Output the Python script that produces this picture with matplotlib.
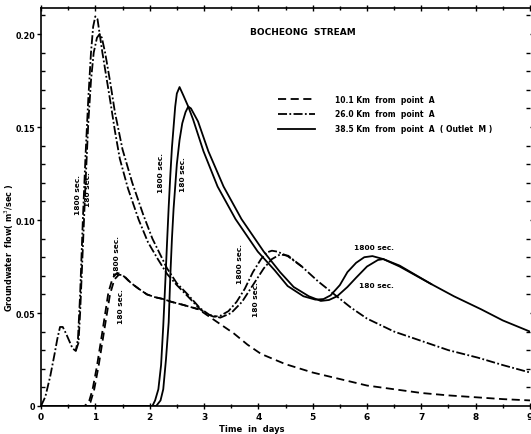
import matplotlib
matplotlib.use("Agg")
import matplotlib.pyplot as plt
from matplotlib.ticker import MultipleLocator, FixedLocator
from matplotlib.lines import Line2D

# ---------------- data ----------------
# 10.1 Km from point A (dashed)
t_a1800 = [0, 0.8, 0.88, 0.95, 1.03, 1.13, 1.24, 1.32, 1.40, 1.48, 1.64, 1.8, 1.95,
           2.1, 2.25, 2.4, 2.6, 2.9, 3.2, 3.55, 3.8, 4.05, 4.5, 5.0, 5.5, 6.0, 6.5,
           7.0, 7.5, 8.0, 8.5, 9.0]
q_a1800 = [0, 0, 0.002, 0.009, 0.0215, 0.040, 0.061, 0.069, 0.0715, 0.071, 0.0665,
           0.063, 0.060, 0.0585, 0.0575, 0.056, 0.0545, 0.052, 0.046, 0.039, 0.033,
           0.028, 0.0225, 0.018, 0.0145, 0.011, 0.009, 0.007, 0.0057, 0.0047, 0.0037, 0.003]
t_a180 = [0, 0.83, 0.91, 0.98, 1.06, 1.16, 1.27, 1.35, 1.43, 1.51, 1.66, 1.8, 1.95,
          2.1, 2.25, 2.4, 2.6, 2.9]
q_a180 = [0, 0, 0.002, 0.009, 0.0215, 0.040, 0.060, 0.068, 0.0705, 0.0705, 0.066,
          0.063, 0.060, 0.0585, 0.0575, 0.056, 0.0545, 0.052]

# 26.0 Km from point A (dash-dot)
t_b1800 = [0, 0.08, 0.17, 0.25, 0.3, 0.35, 0.4, 0.46, 0.52, 0.58, 0.64, 0.68, 0.72,
           0.77, 0.82, 0.87, 0.92, 0.96, 1.0, 1.04, 1.08, 1.13, 1.18, 1.28, 1.36,
           1.45, 1.6, 1.8, 1.97, 2.15, 2.32, 2.5, 2.7, 2.93, 3.05, 3.18, 3.3, 3.45,
           3.6, 3.75, 3.9, 4.05, 4.15, 4.25, 4.35, 4.54, 4.8, 5.1, 5.4, 5.7, 6.0,
           6.5, 7.0, 7.5, 8.04, 8.5, 9.0]
q_b1800 = [0, 0.005, 0.016, 0.028, 0.036, 0.0425, 0.0425, 0.039, 0.035, 0.031,
           0.0296, 0.036, 0.060, 0.100, 0.135, 0.165, 0.190, 0.204, 0.2095, 0.208,
           0.200, 0.190, 0.181, 0.163, 0.148, 0.133, 0.117, 0.100, 0.088, 0.079,
           0.071, 0.065, 0.059, 0.052, 0.0495, 0.048, 0.0485, 0.051, 0.056, 0.063,
           0.072, 0.079, 0.0825, 0.0835, 0.083, 0.0806, 0.075, 0.067, 0.060, 0.053,
           0.047, 0.040, 0.035, 0.030, 0.026, 0.022, 0.018]
t_b180 = [0.64, 0.69, 0.72, 0.77, 0.82, 0.87, 0.92, 0.97, 1.03, 1.08, 1.12, 1.18,
          1.28, 1.36, 1.5, 1.68, 1.88, 2.05, 2.32, 2.5, 2.7, 2.93, 3.1, 3.3, 3.5,
          3.7, 3.9, 4.1, 4.25, 4.4, 4.55, 4.8]
q_b180 = [0.0296, 0.034, 0.050, 0.085, 0.120, 0.152, 0.175, 0.190, 0.198, 0.200,
          0.198, 0.190, 0.173, 0.158, 0.138, 0.120, 0.103, 0.090, 0.074, 0.066,
          0.060, 0.0525, 0.049, 0.0475, 0.050, 0.056, 0.065, 0.074, 0.079, 0.0815,
          0.0808, 0.075]

# 38.5 Km from point A (Outlet M) (solid)
t_c1800 = [0, 2.05, 2.1, 2.16, 2.21, 2.25, 2.29, 2.32, 2.35, 2.38, 2.41, 2.44, 2.47,
           2.5, 2.55, 2.62, 2.71, 2.8, 2.99, 3.25, 3.58, 3.99, 4.3, 4.54, 4.83,
           5.05, 5.2, 5.33, 5.5, 5.64, 5.8, 5.95, 6.1, 6.3, 6.6, 7.18, 7.6, 8.1,
           8.5, 9.0]
q_c1800 = [0, 0, 0.003, 0.009, 0.022, 0.043, 0.068, 0.088, 0.107, 0.124, 0.139,
           0.150, 0.161, 0.168, 0.1715, 0.167, 0.161, 0.154, 0.137, 0.118, 0.1005,
           0.083, 0.073, 0.0645, 0.059, 0.0572, 0.0575, 0.0595, 0.065, 0.072, 0.077,
           0.080, 0.0806, 0.079, 0.075, 0.0656, 0.059, 0.052, 0.046, 0.040]
t_c180 = [0, 2.12, 2.2, 2.25, 2.3, 2.35, 2.38, 2.41, 2.44, 2.5, 2.55, 2.6, 2.66,
          2.71, 2.76, 2.89, 3.08, 3.36, 3.69, 4.1, 4.4, 4.65, 4.93, 5.15, 5.3,
          5.45, 5.64, 5.8, 6.0, 6.2, 6.3, 6.6, 7.18]
q_c180 = [0, 0, 0.003, 0.009, 0.025, 0.045, 0.070, 0.090, 0.106, 0.130, 0.143,
          0.152, 0.158, 0.161, 0.160, 0.153, 0.137, 0.118, 0.1005, 0.083, 0.072,
          0.064, 0.059, 0.0565, 0.057, 0.059, 0.064, 0.069, 0.075, 0.0785, 0.079,
          0.0755, 0.0656]

x_ticks = [0, 1, 2, 3, 4, 5, 6, 7, 8, 9]
y_ticks = [0, 0.05, 0.10, 0.15, 0.20]
y_ticklabels = ["0", "0.05", "0.10", "0.15", "0.20"]
legend_labels = ["10.1 Km  from  point  A",
                 "26.0 Km  from  point  A",
                 "38.5 Km  from  point  A  ( Outlet  M )"]

# ---------------- figure ----------------
plt.rcParams['font.family'] = ['DejaVu Sans']
fig = plt.figure(figsize=(5.31, 4.35), dpi=100)
ax = fig.add_axes([41/531, 28/435, 489/531, 398/435])

lw = 1.3
DASH = (4.5, 2.5)
DASHDOT = (5.0, 1.3, 1.0, 1.3)

ax.plot(t_a1800, q_a1800, color='black', lw=lw, dashes=DASH)
ax.plot(t_a180, q_a180, color='black', lw=lw, dashes=DASH)
ax.plot(t_b1800, q_b1800, color='black', lw=lw, dashes=DASHDOT)
ax.plot(t_b180, q_b180, color='black', lw=lw, dashes=DASHDOT)
ax.plot(t_c1800, q_c1800, color='black', lw=lw, solid_joinstyle='round')
ax.plot(t_c180, q_c180, color='black', lw=lw, solid_joinstyle='round')

ax.set_xlim(0, 9)
ax.set_ylim(0, 0.214)

ax.spines['right'].set_visible(False)
for s in ['left', 'bottom', 'top']:
    ax.spines[s].set_linewidth(1.2)

ax.xaxis.set_major_locator(FixedLocator(x_ticks))
ax.xaxis.set_minor_locator(MultipleLocator(0.5))
ax.set_xticklabels([str(v) for v in x_ticks])
ax.yaxis.set_major_locator(FixedLocator(y_ticks))
ax.yaxis.set_minor_locator(MultipleLocator(0.01))
ax.set_yticklabels(y_ticklabels)

ax.tick_params(axis='x', which='both', direction='inout', top=True, bottom=True,
               length=4, width=1, labelsize=6.5, pad=2)
ax.tick_params(axis='x', which='minor', length=3)
ax.tick_params(axis='y', which='major', direction='out', left=True, right=True,
               length=3, width=1, labelsize=5.8, pad=1)
ax.tick_params(axis='y', which='minor', direction='in', left=True, right=True,
               length=3, width=1)
for lab in ax.get_xticklabels() + ax.get_yticklabels():
    lab.set_fontweight('bold')

ax.set_xlabel("Time  in  days", fontsize=6, fontweight='bold')
ax.xaxis.set_label_coords(0.43, -0.045)
ax.set_ylabel("Groundwater  flow( m$^3$/sec )", fontsize=5.8, fontweight='bold')
ax.yaxis.set_label_coords(-0.052, 0.40)

ax.text(0.427, 0.94, "BOCHEONG  STREAM", transform=ax.transAxes,
        fontsize=6.5, fontweight='bold', ha='left', va='center')

handles = [Line2D([], [], color='black', lw=lw, dashes=DASH),
           Line2D([], [], color='black', lw=lw, dashes=DASHDOT),
           Line2D([], [], color='black', lw=lw)]
ax.legend(handles, legend_labels, loc='upper left', bbox_to_anchor=(0.485, 0.782),
          frameon=False, handlelength=4.8, handletextpad=2.6,
          labelspacing=0.75, borderpad=0, borderaxespad=0,
          prop={'weight': 'bold', 'size': 5.5})

fs = 5.3
def vtext(x, y, s):
    ax.text(x, y, s, rotation=90, fontsize=fs, fontweight='bold',
            ha='center', va='center')

vtext(0.68, 0.114, "1800 sec.")
vtext(0.86, 0.117, "180 sec.")
vtext(1.40, 0.081, "1800 sec.")
vtext(1.48, 0.054, "180 sec.")
vtext(2.21, 0.126, "1800 sec.")
vtext(2.62, 0.125, "180 sec.")
vtext(3.67, 0.077, "1800 sec.")
vtext(3.95, 0.058, "180 sec.")
ax.text(5.76, 0.0855, "1800 sec.", fontsize=fs, fontweight='bold', ha='left', va='center')
ax.text(5.85, 0.065, "180 sec.", fontsize=fs, fontweight='bold', ha='left', va='center')

fig.savefig("out.png", dpi=100)
